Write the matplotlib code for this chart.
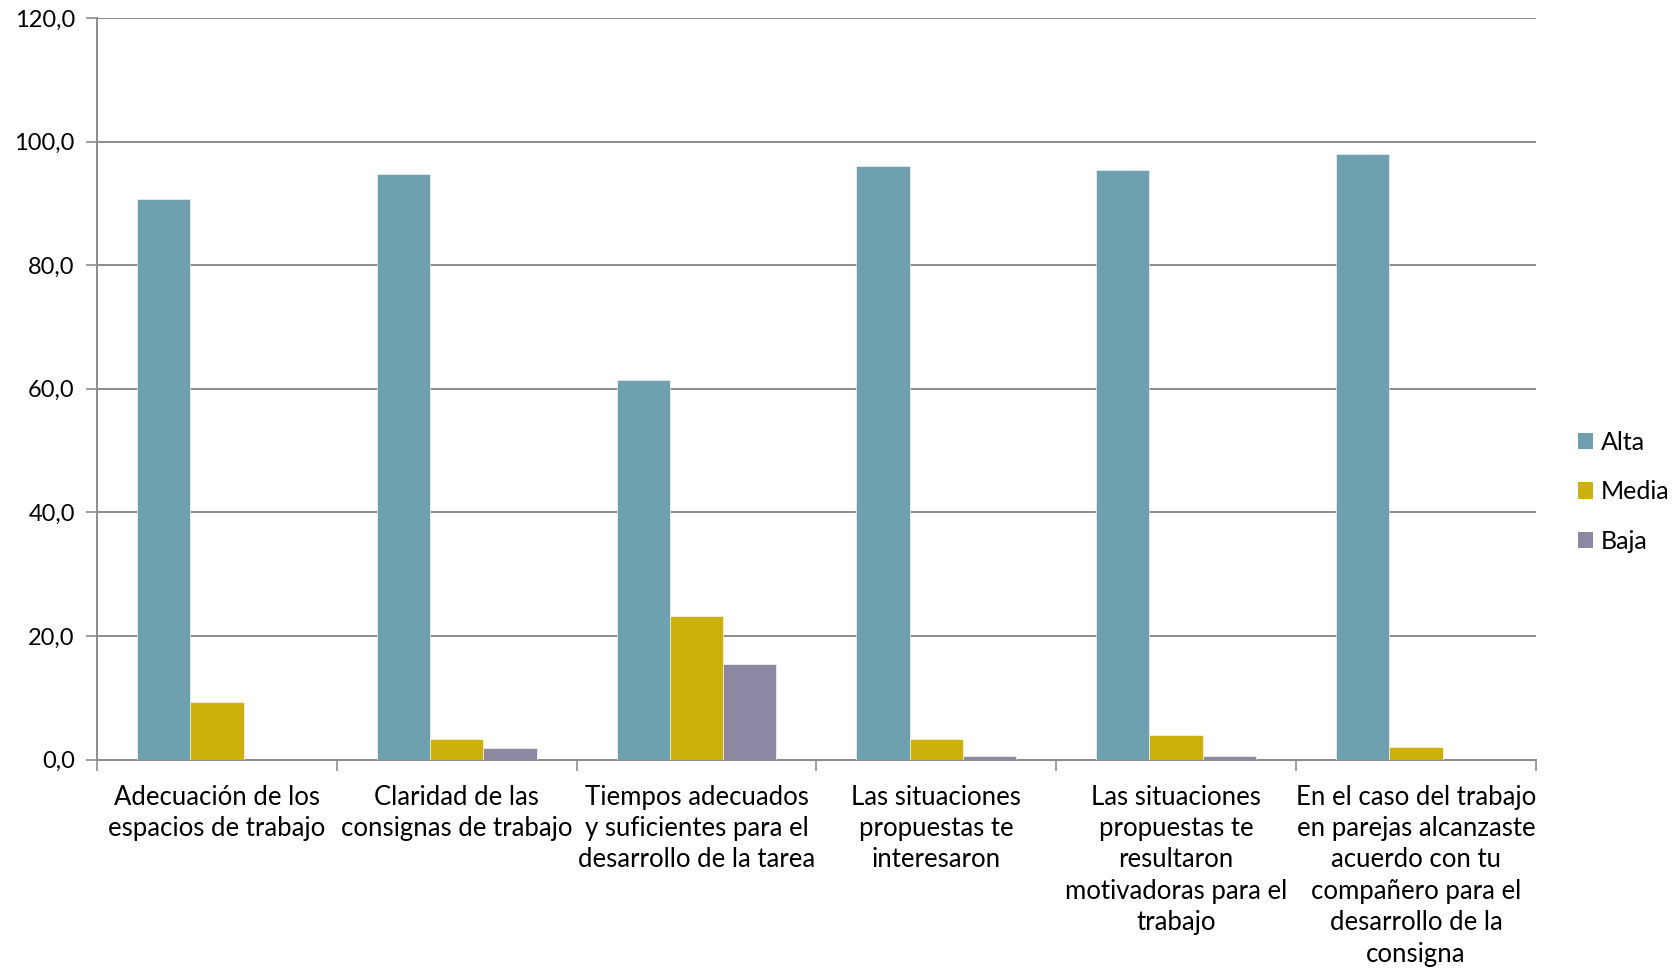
import matplotlib
matplotlib.use("Agg")
import matplotlib.pyplot as plt
import numpy as np
from matplotlib.patches import Patch

# data
categories = [
    "Adecuación de los\nespacios de trabajo",
    "Claridad de las\nconsignas de trabajo",
    "Tiempos adecuados\ny suficientes para el\ndesarrollo de la tarea",
    "Las situaciones\npropuestas te\ninteresaron",
    "Las situaciones\npropuestas te\nresultaron\nmotivadoras para el\ntrabajo",
    "En el caso del trabajo\nen parejas alcanzaste\nacuerdo con tu\ncompañero para el\ndesarrollo de la\nconsigna",
]
series_names = ["Alta", "Media", "Baja"]
alta = [90.7, 94.7, 61.4, 96.1, 95.4, 98.0]
media = [9.3, 3.3, 23.2, 3.3, 4.0, 2.0]
baja = [0.0, 1.9, 15.4, 0.6, 0.6, 0.0]
y_ticks = [0, 20, 40, 60, 80, 100, 120]

colors = ["#6fa0b0", "#cdb00c", "#8c88a3"]
grid_color = "#8c8c8c"

plt.rcParams["font.family"] = ["Lato", "DejaVu Sans"]

fig = plt.figure(figsize=(16.73, 9.73), dpi=100)
ax = fig.add_axes([0.058, 0.2194, 0.86, 0.7621])

n = len(categories)
x = np.arange(n)
bar_w = 1 / 4.5
for i, (vals, name) in enumerate(zip([alta, media, baja], series_names)):
    ax.bar(x + (i - 1) * bar_w, vals, width=bar_w, color=colors[i],
           edgecolor="#ffffff", linewidth=0.4, label=name, zorder=3)

ax.set_xlim(-0.5, n - 0.5)
ax.set_ylim(0, 120)

# y axis
ax.set_yticks(y_ticks)
ax.set_yticklabels([f"{v:.1f}".replace(".", ",") for v in y_ticks], fontsize=17)
ax.yaxis.grid(True, color=grid_color, linewidth=1.4, zorder=0)
ax.tick_params(axis="y", length=8, width=1.2, color=grid_color, pad=8)

# x axis: ticks on group boundaries, labels on centres
ax.set_xticks(np.arange(n + 1) - 0.5)
ax.set_xticklabels([])
ax.tick_params(axis="x", which="major", length=8, width=1.2, color=grid_color)
ax.set_xticks(x, minor=True)
ax.set_xticklabels(categories, minor=True, fontsize=18.5, linespacing=1.32,
                   va="top", ha="center")
ax.tick_params(axis="x", which="minor", length=0, pad=18)

for side in ["top", "right"]:
    ax.spines[side].set_visible(False)
for side in ["left", "bottom"]:
    ax.spines[side].set_color(grid_color)
    ax.spines[side].set_linewidth(1.4)

handles = [Patch(facecolor=c, edgecolor="none") for c in colors]
fig.legend(handles, series_names, loc="center left",
           bbox_to_anchor=(0.937, 0.4945), frameon=False, fontsize=18,
           handlelength=0.62, handleheight=0.62, handletextpad=0.3,
           labelspacing=1.05, borderaxespad=0)

fig.savefig("out.png", dpi=100, facecolor="white")
